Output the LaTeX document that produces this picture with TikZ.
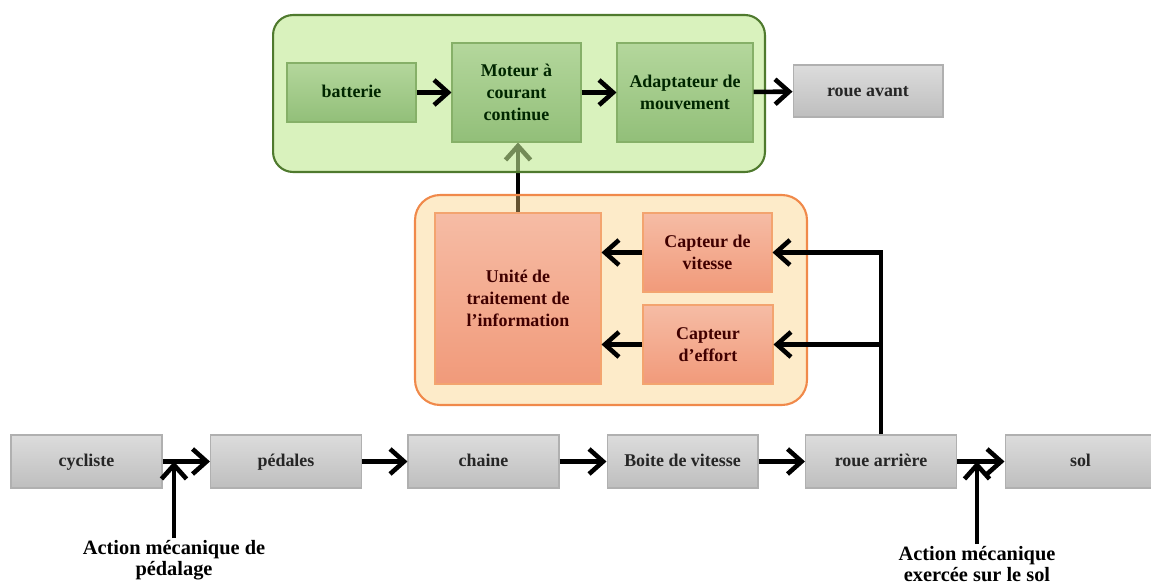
\documentclass[tikz,border=0pt]{standalone}
\usepackage{fontspec}
\setmainfont{Liberation Serif}
\usepackage{tikz}
\usetikzlibrary{arrows.meta, positioning, calc, backgrounds}
\definecolor{cgreenbg}{HTML}{C0E991}
\definecolor{cgreenline}{HTML}{4F7A2E}
\definecolor{cgreentop}{HTML}{B4D79C}
\definecolor{cgreenbot}{HTML}{92BF79}
\definecolor{cgreenedge}{HTML}{86B068}
\definecolor{corangebg}{HTML}{FACD78}
\definecolor{corangeline}{HTML}{F0894A}
\definecolor{corangetop}{HTML}{F6BCA5}
\definecolor{corangebot}{HTML}{F19A7A}
\definecolor{corangeedge}{HTML}{F3A46F}
\definecolor{cgraytop}{HTML}{DCDCDC}
\definecolor{cgraybot}{HTML}{BEBEBE}
\definecolor{cgrayedge}{HTML}{B0B0B0}

\begin{document}
\begin{tikzpicture}[
    x=0.02cm, y=-0.02cm,
    >={Straight Barb[length=2.8mm, width=5mm]},
    arr/.style={->, line width=2.6pt},
    boxfont/.style={font=\fontsize{10.2}{12.5}\selectfont\bfseries},
    oneline/.style={text height=1.55ex, text depth=0.25ex},
    graybox/.style={draw=cgrayedge, line width=0.6pt, top color=cgraytop, bottom color=cgraybot, minimum width=3.02cm, minimum height=1.06cm, inner sep=0pt, align=center, text=black!85, boxfont, oneline},
    greenbox/.style={draw=cgreenedge, line width=0.6pt, top color=cgreentop, bottom color=cgreenbot, minimum height=1.98cm, inner sep=0pt, align=center, text=black!85!green, boxfont},
    orangebox/.style={draw=corangeedge, line width=0.6pt, top color=corangetop, bottom color=corangebot, minimum width=2.58cm, minimum height=1.58cm, inner sep=0pt, align=center, text=black!75!red, boxfont},
    bloc/.style={line width=1.2pt, inner sep=0pt},
    action/.style={align=center, inner sep=1pt, font=\fontsize{11.6}{12.3}\selectfont\bfseries},
]
    \useasboundingbox (0,0) rectangle (1151,585);

    % blocs de fond
    \node[bloc, fill=cgreenbg, fill opacity=0.6, draw=cgreenline, rounded corners=0.4cm, minimum width=9.84cm, minimum height=3.14cm] (chaineenergie) at (519,93.5) {};
    \node[bloc, fill=corangebg, fill opacity=0.4, draw=corangeline, rounded corners=0.5cm, minimum width=7.84cm, minimum height=4.2cm] (chaineinfo) at (611,300) {};

    % chaine d'energie
    \node[greenbox, oneline, minimum width=2.58cm, minimum height=1.18cm] (bat) at (351.5,92.5) {batterie};
    \node[greenbox, minimum width=2.58cm] (mot) at (516.5,92.5) {Moteur à\\courant\\continue};
    \node[greenbox, minimum width=2.72cm] (adap) at (685,92.5) {Adaptateur de\\mouvement};
    \node[graybox, minimum width=3cm, minimum height=1.04cm] (rav) at (868,91) {roue avant};

    % chaine d'information
    \node[orangebox, minimum width=3.32cm, minimum height=3.42cm] (uti) at (518,298.5) {Unité de\\traitement de\\l’information};
    \node[orangebox] (cvit) at (707.5,252.5) {Capteur de\\vitesse};
    \node[orangebox, minimum width=2.6cm] (ceff) at (708,344.5) {Capteur\\d’effort};

    % chaine mecanique
    \node[graybox] (cyc) at (86.5,461.5) {cycliste};
    \node[graybox] (ped) at (286,461.5) {pédales};
    \node[graybox] (cha) at (483.5,461.5) {chaine};
    \node[graybox] (bdv) at (682.5,461.5) {Boite de vitesse};
    \node[graybox] (rar) at (881,461.5) {roue arrière};
    \node[graybox] (sol) at (1080.5,461.5) {sol};

    \node[action, anchor=north] (actped) at (174,538) {Action mécanique de\\pédalage};
    \node[action, anchor=north] (actsol) at (977,544) {Action mécanique\\exercée sur le sol};

    \draw[arr] (bat) -- (mot);
    \draw[arr] (mot) -- (adap);
    \draw[arr] (adap) -- (rav);
    \draw[arr] (cvit) -- (uti.east |- cvit.west);
    \draw[arr] (ceff) -- (uti.east |- ceff.west);
    \draw[arr] (rar.north) |- (cvit.east);
    \draw[arr] (rar.north |- ceff.east) -- (ceff.east);
    \begin{pgfonlayer}{background}
        \draw[arr] (uti.north) -- (uti.north |- mot.south);
    \end{pgfonlayer}

    \draw[arr] (cyc) -- (ped);
    \draw[arr] (ped) -- (cha);
    \draw[arr] (cha) -- (bdv);
    \draw[arr] (bdv) -- (rar);
    \draw[arr] (rar) -- (sol);
    \draw[arr] (actped.north) -- (actped.north |- cyc.east);
    \draw[arr] (actsol.north) -- (actsol.north |- rar.east);
\end{tikzpicture}
\end{document}
